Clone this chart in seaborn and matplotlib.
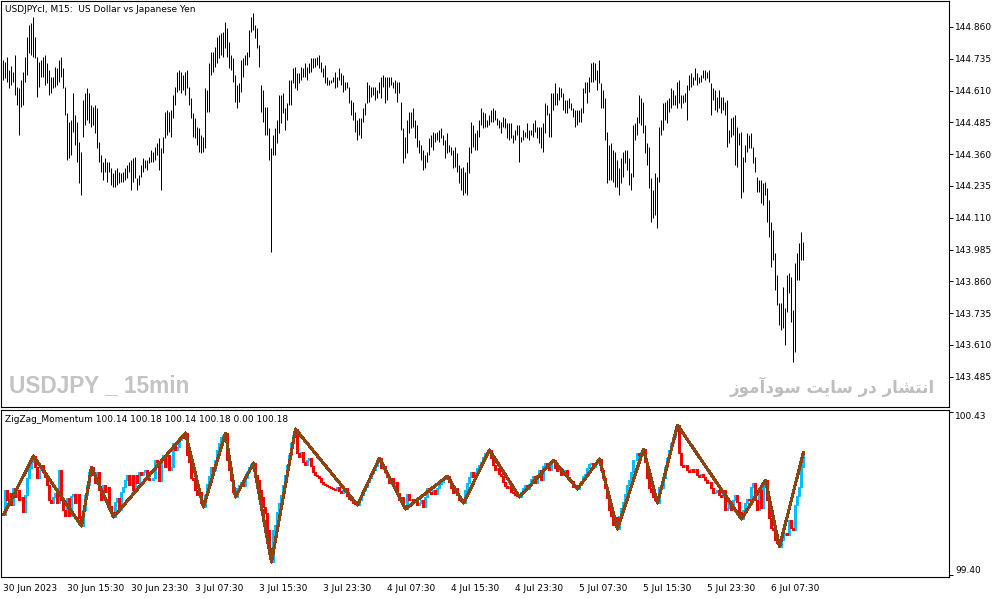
import numpy as np
import pandas as pd
import matplotlib
matplotlib.use('Agg')
import matplotlib.pyplot as plt
import seaborn as sns

# USDJPY M15 bars, high / low per bar
bar_high = [
    144.730, 144.722, 144.742, 144.691, 144.707, 144.683, 144.750, 144.624, 144.620, 144.651,
    144.683, 144.742, 144.821, 144.868, 144.876, 144.899, 144.821, 144.742, 144.722, 144.730,
    144.742, 144.750, 144.718, 144.691, 144.663, 144.663, 144.703, 144.699, 144.730, 144.742,
    144.699, 144.624, 144.522, 144.486, 144.494, 144.600, 144.514, 144.486, 144.408, 144.368,
    144.573, 144.600, 144.620, 144.600, 144.553, 144.545, 144.553, 144.541, 144.408, 144.357,
    144.329, 144.345, 144.329, 144.329, 144.306, 144.286, 144.298, 144.306, 144.290, 144.286,
    144.290, 144.306, 144.317, 144.329, 144.337, 144.345, 144.349, 144.266, 144.278, 144.317,
    144.345, 144.337, 144.337, 144.349, 144.376, 144.368, 144.388, 144.404, 144.423, 144.384,
    144.427, 144.526, 144.534, 144.526, 144.534, 144.593, 144.624, 144.683, 144.691, 144.683,
    144.671, 144.683, 144.691, 144.624, 144.581, 144.522, 144.502, 144.467, 144.463, 144.435,
    144.427, 144.620, 144.612, 144.718, 144.762, 144.762, 144.781, 144.821, 144.828, 144.836,
    144.840, 144.880, 144.856, 144.801, 144.750, 144.738, 144.671, 144.632, 144.640, 144.730,
    144.738, 144.750, 144.762, 144.848, 144.899, 144.915, 144.868, 144.856, 144.789, 144.632,
    144.612, 144.545, 144.545, 144.463, 144.384, 144.435, 144.463, 144.494, 144.593, 144.593,
    144.600, 144.541, 144.561, 144.651, 144.651, 144.699, 144.703, 144.679, 144.679, 144.703,
    144.699, 144.718, 144.703, 144.718, 144.738, 144.738, 144.738, 144.742, 144.750, 144.722,
    144.699, 144.710, 144.663, 144.651, 144.651, 144.663, 144.683, 144.663, 144.699, 144.679,
    144.671, 144.644, 144.644, 144.624, 144.573, 144.565, 144.526, 144.494, 144.502, 144.502,
    144.541, 144.561, 144.644, 144.632, 144.624, 144.624, 144.624, 144.612, 144.644, 144.663,
    144.671, 144.663, 144.663, 144.663, 144.663, 144.644, 144.651, 144.644, 144.644, 144.565,
    144.463, 144.427, 144.494, 144.526, 144.526, 144.541, 144.494, 144.475, 144.416, 144.396,
    144.376, 144.357, 144.368, 144.423, 144.435, 144.447, 144.443, 144.447, 144.455, 144.463,
    144.435, 144.416, 144.443, 144.396, 144.388, 144.376, 144.388, 144.364, 144.317, 144.306,
    144.309, 144.290, 144.329, 144.388, 144.486, 144.475, 144.443, 144.455, 144.494, 144.541,
    144.526, 144.522, 144.494, 144.514, 144.534, 144.541, 144.534, 144.502, 144.494, 144.486,
    144.506, 144.502, 144.482, 144.482, 144.482, 144.435, 144.455, 144.475, 144.475, 144.427,
    144.455, 144.447, 144.482, 144.455, 144.455, 144.482, 144.494, 144.467, 144.467, 144.467,
    144.482, 144.561, 144.553, 144.522, 144.600, 144.600, 144.640, 144.600, 144.624, 144.620,
    144.600, 144.573, 144.573, 144.581, 144.561, 144.541, 144.534, 144.534, 144.534, 144.541,
    144.620, 144.644, 144.644, 144.663, 144.718, 144.722, 144.718, 144.691, 144.730, 144.640,
    144.612, 144.581, 144.447, 144.396, 144.404, 144.376, 144.368, 144.337, 144.306, 144.345,
    144.368, 144.376, 144.376, 144.345, 144.286, 144.475, 144.482, 144.506, 144.593, 144.581,
    144.565, 144.475, 144.404, 144.388, 144.266, 144.219, 144.286, 144.270, 144.467, 144.494,
    144.561, 144.565, 144.573, 144.581, 144.620, 144.612, 144.593, 144.644, 144.651, 144.593,
    144.593, 144.600, 144.632, 144.671, 144.679, 144.663, 144.699, 144.679, 144.663, 144.671,
    144.691, 144.691, 144.683, 144.691, 144.640, 144.620, 144.612, 144.585, 144.612, 144.585,
    144.585, 144.565, 144.573, 144.455, 144.502, 144.506, 144.514, 144.467, 144.443, 144.447,
    144.349, 144.396, 144.443, 144.435, 144.443, 144.388, 144.349, 144.270, 144.258, 144.258,
    144.247, 144.251, 144.227, 144.180, 144.093, 144.062, 143.971, 143.885, 143.775, 143.775,
    143.838, 143.755, 143.885, 143.893, 143.877, 143.747, 143.932, 143.971, 144.011, 144.054,
    144.015,
]
bar_low = [
    144.651, 144.659, 144.644, 144.620, 144.632, 144.644, 144.593, 144.553, 144.435, 144.545,
    144.553, 144.644, 144.671, 144.758, 144.750, 144.742, 144.738, 144.585, 144.624, 144.663,
    144.663, 144.632, 144.640, 144.593, 144.600, 144.620, 144.624, 144.632, 144.644, 144.663,
    144.620, 144.514, 144.337, 144.345, 144.357, 144.447, 144.396, 144.329, 144.247, 144.199,
    144.427, 144.475, 144.494, 144.482, 144.467, 144.475, 144.443, 144.384, 144.329, 144.290,
    144.258, 144.290, 144.251, 144.290, 144.239, 144.231, 144.231, 144.239, 144.247, 144.251,
    144.251, 144.258, 144.266, 144.290, 144.219, 144.251, 144.266, 144.219, 144.239, 144.270,
    144.290, 144.306, 144.298, 144.325, 144.329, 144.329, 144.337, 144.357, 144.298, 144.219,
    144.364, 144.423, 144.435, 144.447, 144.427, 144.502, 144.553, 144.604, 144.612, 144.600,
    144.612, 144.593, 144.620, 144.553, 144.502, 144.427, 144.423, 144.396, 144.368, 144.364,
    144.368, 144.384, 144.526, 144.526, 144.671, 144.683, 144.703, 144.718, 144.738, 144.750,
    144.742, 144.777, 144.742, 144.699, 144.691, 144.644, 144.565, 144.541, 144.565, 144.604,
    144.663, 144.710, 144.710, 144.742, 144.840, 144.848, 144.817, 144.777, 144.703, 144.526,
    144.486, 144.435, 144.435, 144.337, 143.975, 144.357, 144.357, 144.404, 144.443, 144.482,
    144.522, 144.455, 144.494, 144.553, 144.553, 144.640, 144.620, 144.612, 144.640, 144.651,
    144.663, 144.663, 144.651, 144.679, 144.683, 144.699, 144.703, 144.710, 144.699, 144.683,
    144.663, 144.640, 144.632, 144.632, 144.640, 144.644, 144.620, 144.624, 144.651, 144.632,
    144.604, 144.612, 144.620, 144.561, 144.514, 144.494, 144.447, 144.416, 144.435, 144.423,
    144.486, 144.514, 144.561, 144.565, 144.585, 144.593, 144.573, 144.581, 144.600, 144.581,
    144.624, 144.561, 144.573, 144.624, 144.632, 144.620, 144.600, 144.565, 144.600, 144.455,
    144.325, 144.345, 144.364, 144.443, 144.463, 144.467, 144.423, 144.388, 144.364, 144.337,
    144.298, 144.306, 144.329, 144.357, 144.388, 144.376, 144.408, 144.416, 144.408, 144.423,
    144.396, 144.345, 144.364, 144.368, 144.357, 144.306, 144.309, 144.290, 144.247, 144.219,
    144.199, 144.207, 144.199, 144.286, 144.364, 144.388, 144.376, 144.376, 144.427, 144.475,
    144.463, 144.467, 144.467, 144.475, 144.486, 144.486, 144.494, 144.475, 144.463, 144.443,
    144.467, 144.463, 144.423, 144.416, 144.423, 144.404, 144.416, 144.435, 144.329, 144.408,
    144.416, 144.427, 144.423, 144.416, 144.435, 144.427, 144.447, 144.423, 144.404, 144.384,
    144.368, 144.443, 144.514, 144.427, 144.427, 144.534, 144.553, 144.553, 144.573, 144.585,
    144.534, 144.522, 144.522, 144.541, 144.534, 144.506, 144.467, 144.475, 144.486, 144.486,
    144.522, 144.600, 144.561, 144.604, 144.644, 144.644, 144.651, 144.612, 144.640, 144.541,
    144.541, 144.416, 144.247, 144.258, 144.258, 144.251, 144.231, 144.231, 144.199, 144.247,
    144.270, 144.325, 144.298, 144.239, 144.219, 144.270, 144.416, 144.435, 144.482, 144.475,
    144.443, 144.364, 144.317, 144.227, 144.093, 144.109, 144.121, 144.070, 144.251, 144.435,
    144.455, 144.494, 144.482, 144.526, 144.541, 144.553, 144.553, 144.541, 144.561, 144.541,
    144.561, 144.565, 144.494, 144.612, 144.624, 144.632, 144.651, 144.632, 144.640, 144.644,
    144.659, 144.651, 144.659, 144.644, 144.514, 144.573, 144.534, 144.526, 144.541, 144.522,
    144.534, 144.514, 144.388, 144.404, 144.427, 144.435, 144.317, 144.309, 144.396, 144.188,
    144.211, 144.329, 144.368, 144.384, 144.384, 144.325, 144.290, 144.211, 144.211, 144.168,
    144.160, 144.199, 144.093, 144.034, 143.916, 143.944, 143.826, 143.767, 143.688, 143.669,
    143.677, 143.610, 143.740, 143.814, 143.700, 143.543, 143.582, 143.865, 143.865, 143.944,
    143.944,
]

# ZigZag_Momentum indicator values per bar
momentum = [
    99.779, 99.936, 99.873, 99.917, 99.842, 99.949, 99.892, 99.936, 99.873, 99.892,
    99.797, 99.905, 100.012, 100.075, 100.113, 100.151, 100.081, 100.012, 100.062, 100.094,
    100.050, 100.018, 99.968, 99.873, 99.854, 99.892, 99.917, 99.854, 100.062, 99.873,
    99.810, 99.772, 99.886, 99.772, 99.898, 99.911, 99.854, 99.911, 99.760, 99.709,
    99.810, 99.905, 99.968, 100.050, 100.081, 100.031, 99.980, 100.050, 99.936, 99.873,
    99.968, 99.924, 99.955, 99.835, 99.797, 99.766, 99.860, 99.886, 99.810, 99.924,
    99.955, 99.999, 100.031, 99.968, 100.031, 99.936, 100.031, 99.980, 100.050, 100.031,
    100.050, 100.062, 100.012, 99.999, 99.999, 100.012, 100.125, 100.113, 99.993, 100.125,
    100.157, 100.081, 100.157, 100.062, 100.081, 100.233, 100.189, 100.208, 100.252, 100.277,
    100.264, 100.296, 100.157, 100.113, 100.012, 99.999, 99.936, 99.905, 99.924, 99.854,
    99.829, 99.905, 99.974, 100.024, 100.081, 100.062, 100.125, 100.189, 100.233, 100.271,
    100.283, 100.296, 100.125, 100.062, 99.999, 99.924, 99.892, 99.949, 99.968, 99.987,
    99.961, 100.012, 100.050, 100.081, 100.100, 100.107, 100.031, 99.999, 99.936, 99.892,
    99.829, 99.791, 99.684, 99.570, 99.482, 99.684, 99.715, 99.797, 99.854, 99.905,
    99.968, 100.031, 100.094, 100.157, 100.233, 100.283, 100.321, 100.170, 100.144, 100.176,
    100.113, 100.094, 100.125, 100.138, 100.088, 100.050, 100.031, 100.024, 100.012, 99.987,
    99.974, 99.968, 99.961, 99.955, 99.949, 99.943, 99.936, 99.955, 99.930, 99.917,
    99.936, 99.949, 99.898, 99.879, 99.873, 99.854, 99.848, 99.842, 99.873, 99.905,
    99.936, 99.955, 99.987, 100.012, 100.043, 100.062, 100.088, 100.113, 100.138, 100.075,
    100.088, 100.050, 100.018, 99.980, 100.012, 99.968, 99.987, 99.917, 99.873, 99.892,
    99.842, 99.816, 99.911, 99.873, 99.879, 99.867, 99.879, 99.842, 99.854, 99.873,
    99.829, 99.892, 99.949, 99.924, 99.911, 99.936, 99.911, 99.949, 99.974, 99.987,
    100.006, 100.018, 100.024, 99.987, 99.949, 99.917, 99.949, 99.905, 99.873, 99.867,
    99.854, 99.936, 99.980, 100.018, 100.050, 100.018, 100.050, 100.075, 100.094, 100.113,
    100.144, 100.170, 100.170, 100.189, 100.138, 100.094, 100.062, 100.075, 100.037, 100.024,
    99.987, 99.961, 99.949, 99.961, 99.924, 99.917, 99.905, 99.898, 99.892, 99.924,
    99.949, 99.968, 99.943, 99.974, 100.006, 100.024, 99.980, 100.031, 100.062, 99.999,
    100.088, 100.107, 100.081, 100.062, 100.113, 100.125, 100.075, 100.056, 100.069, 100.031,
    100.050, 100.062, 100.018, 99.999, 99.993, 99.955, 99.968, 99.943, 99.968, 99.993,
    100.024, 100.037, 100.075, 100.100, 100.107, 100.081, 100.107, 100.119, 100.132, 100.062,
    100.012, 99.949, 99.886, 99.810, 99.772, 99.715, 99.766, 99.690, 99.772, 99.823,
    99.860, 99.911, 99.968, 99.999, 100.050, 100.125, 100.125, 100.170, 100.157, 100.176,
    100.195, 100.113, 100.012, 99.949, 99.924, 99.892, 99.873, 99.854, 99.955, 99.949,
    100.012, 100.081, 100.138, 100.189, 100.233, 100.271, 100.315, 100.346, 100.170, 100.094,
    100.081, 100.094, 100.062, 100.050, 100.069, 100.050, 100.069, 100.031, 100.018, 100.037,
    100.018, 99.999, 99.980, 99.987, 99.949, 99.917, 99.924, 99.936, 99.905, 99.892,
    99.936, 99.810, 99.823, 99.860, 99.810, 99.873, 99.905, 99.860, 99.797, 99.753,
    99.810, 99.854, 99.879, 99.873, 99.955, 99.980, 99.873, 99.810, 99.936, 99.823,
    99.961, 99.999, 99.873, 99.760, 99.697, 99.684, 99.621, 99.602, 99.577, 99.621,
    99.652, 99.665, 99.652, 99.747, 99.697, 99.684, 99.842, 99.898, 99.955, 100.081,
    100.176,
]

# bars where the zigzag turns
zz_idx = [0, 15, 39, 44, 55, 91, 100, 111, 116, 125, 134, 146, 177, 188, 201,
          222, 230, 243, 258, 275, 287, 298, 307, 320, 327, 337, 369, 381, 388, 400]

price_ticks = [144.860, 144.735, 144.610, 144.485, 144.360, 144.235,
               144.110, 143.985, 143.860, 143.735, 143.610, 143.485]
mom_ticks = [99.40, 100.43]
time_labels = ['30 Jun 2023', '30 Jun 15:30', '30 Jun 23:30', '3 Jul 07:30',
               '3 Jul 15:30', '3 Jul 23:30', '4 Jul 07:30', '4 Jul 15:30',
               '4 Jul 23:30', '5 Jul 07:30', '5 Jul 15:30', '5 Jul 23:30',
               '6 Jul 07:30']
time_bars = [32 * k for k in range(len(time_labels))]

header = 'USDJPYcl, M15:  US Dollar vs Japanese Yen'
ind_header = 'ZigZag_Momentum 100.14 100.18 100.14 100.18 0.00 100.18'
wm_left = 'USDJPY _ 15min'
wm_right = 'انتشار در سایت سودآموز'

# --- tiny arabic-script shaping (matplotlib has no text shaping) ---
FORMS = {
    'ا': ('\ufe8d', '\ufe8e', None, None),
    'آ': ('\ufe81', '\ufe82', None, None),
    'ن': ('\ufee5', '\ufee6', '\ufee7', '\ufee8'),
    'ت': ('\ufe95', '\ufe96', '\ufe97', '\ufe98'),
    'ش': ('\ufeb5', '\ufeb6', '\ufeb7', '\ufeb8'),
    'ر': ('\ufead', '\ufeae', None, None),
    'د': ('\ufea9', '\ufeaa', None, None),
    'س': ('\ufeb1', '\ufeb2', '\ufeb3', '\ufeb4'),
    'ی': ('\ufbfc', '\ufbfd', '\ufbfe', '\ufbff'),
    'و': ('\ufeed', '\ufeee', None, None),
    'م': ('\ufee1', '\ufee2', '\ufee3', '\ufee4'),
    'ز': ('\ufeaf', '\ufeb0', None, None),
}


def shape_fa(s):
    out = []
    for k, c in enumerate(s):
        if c not in FORMS:
            out.append(c)
            continue
        iso, fin, ini, med = FORMS[c]
        prev = s[k - 1] if k > 0 else ' '
        nxt = s[k + 1] if k + 1 < len(s) else ' '
        jp = prev in FORMS and FORMS[prev][2] is not None
        jn = nxt in FORMS and ini is not None
        if jp and jn:
            out.append(med)
        elif jp:
            out.append(fin)
        elif jn:
            out.append(ini)
        else:
            out.append(iso)
    return ''.join(reversed(out))


sns.set_style('white')
plt.rcParams['font.family'] = ['DejaVu Sans']

W, H = 1003, 598
fig = plt.figure(figsize=(W / 100, H / 100), dpi=100)
fig.patch.set_facecolor('white')
ax1 = fig.add_axes([1 / W, (H - 407) / H, 948 / W, 406 / H])
ax2 = fig.add_axes([1 / W, (H - 577) / H, 948 / W, 167 / H])

n = len(bar_high)
bars = np.arange(n)
px = 72 / 100  # one pixel, in points

price_long = pd.DataFrame({
    'bar': np.repeat(bars, 2),
    'price': np.column_stack([bar_low, bar_high]).ravel(),
})
sns.lineplot(data=price_long, x='bar', y='price', units='bar', estimator=None,
             color='black', linewidth=px, solid_capstyle='butt',
             legend=False, ax=ax1)

mom = np.array(momentum)
prev = np.r_[mom[0], mom[:-1]]
direction = np.where(mom >= prev, 'up', 'down')
mom_long = pd.DataFrame({
    'bar': np.repeat(bars, 2),
    'value': np.column_stack([prev, mom]).ravel(),
    'dir': np.repeat(direction, 2),
})
for d, col in (('up', '#00BFFF'), ('down', '#FF0000')):
    sns.lineplot(data=mom_long[mom_long['dir'] == d], x='bar', y='value',
                 units='bar', estimator=None, color=col, linewidth=0.75,
                 antialiased=False, legend=False, ax=ax2)

zz = pd.DataFrame({'bar': zz_idx, 'value': mom[zz_idx]})
sns.lineplot(data=zz, x='bar', y='value', color='#8B4513', linewidth=1.5,
             estimator=None, sort=False, antialiased=False, ax=ax2)

for ax in (ax1, ax2):
    ax.set_xlim(-1.25, 472.75)
    ax.set_xlabel('')
    ax.set_ylabel('')
    ax.set_facecolor('white')
    for sp in ax.spines.values():
        sp.set_color('black')
        sp.set_linewidth(0.8)
    ax.yaxis.tick_right()
    ax.tick_params(axis='y', direction='out', length=3, width=0.7,
                   pad=1.5, labelsize=6.5, colors='black')

ax1.set_ylim(143.366, 144.962)
ax1.set_yticks(price_ticks)
ax1.set_yticklabels([f'{t:.3f}' for t in price_ticks])
ax1.set_xticks([])

ax2.set_ylim(99.388, 100.441)
ax2.set_yticks(mom_ticks)
ax2.set_yticklabels([f'{t:.2f}' for t in mom_ticks])
ylbl = ax2.get_yticklabels()
ylbl[0].set_va('bottom')
ylbl[1].set_va('top')
ax2.set_xticks(time_bars)
ax2.set_xticklabels(time_labels)
ax2.tick_params(axis='x', direction='out', length=3, width=0.7, pad=2,
                labelsize=6.5, colors='black')
for lbl in ax2.get_xticklabels():
    lbl.set_ha('left')


def ftext(x, y, s, **kw):
    fig.text(x / W, 1 - y / H, s, **kw)


ftext(5, 9, header, fontsize=6.5, va='center', ha='left', color='black')
ftext(5, 419, ind_header, fontsize=6.5, va='center', ha='left', color='black')
ftext(9, 386, wm_left, fontsize=16.3, fontweight='bold', color='#C3C3C3',
      family=['Liberation Sans', 'DejaVu Sans'], va='center', ha='left')
ftext(935, 387, shape_fa(wm_right), fontsize=12, fontweight='bold',
      color='#BEBEBE', family=['DejaVu Sans'], va='center', ha='right')

fig.savefig('out.png', dpi=100, facecolor='white')
